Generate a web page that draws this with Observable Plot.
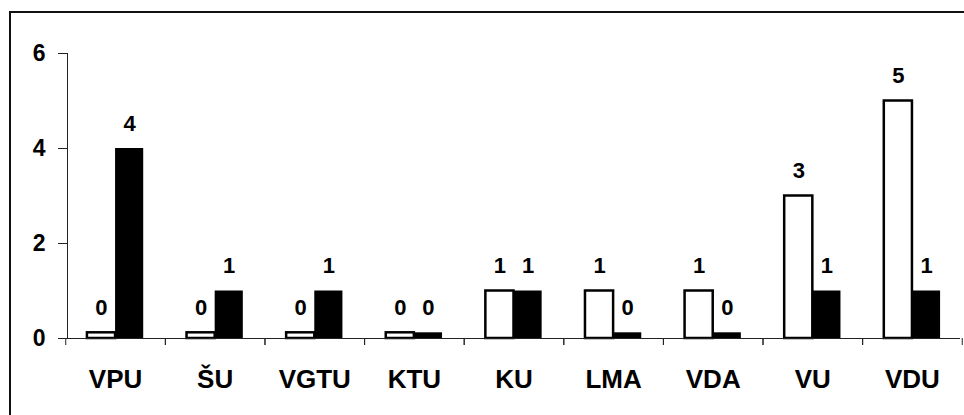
<!DOCTYPE html>
<html>
<head>
<meta charset="utf-8">
<script src="https://cdn.jsdelivr.net/npm/d3@7"></script>
<script src="https://cdn.jsdelivr.net/npm/@observablehq/plot@0.6"></script>
<style>
  html, body { margin: 0; padding: 0; background: #fff; overflow: hidden; }
  #wrap { position: relative; width: 964px; height: 415px; overflow: hidden; background: #fff; }
  #border { position: absolute; left: 9px; top: 11px; width: 1000px; height: 500px; border: 2px solid #111; box-sizing: border-box; }
  #chart { position: absolute; left: 0; top: 0; }
</style>
</head>
<body>
<div id="wrap"><div id="border"></div><div id="chart"></div></div>
<script>
const categories = ["VPU", "ŠU", "VGTU", "KTU", "KU", "LMA", "VDA", "VU", "VDU"];
const whiteValues = [0, 0, 0, 0, 1, 1, 1, 3, 5];
const blackValues = [4, 1, 1, 0, 1, 0, 0, 1, 1];
const yTicks = [0, 2, 4, 6];
const zeroStub = 0.12; // zero values drawn as thin stubs, as in the original

const white = categories.map((c, i) => ({category: c, value: whiteValues[i]}));
const black = categories.map((c, i) => ({category: c, value: blackValues[i]}));
const shown = d => Math.max(d.value, zeroStub);

const W = 964, H = 415, ML = 67, MR = 4, MT = 53, MB = 77;
const pInner = 0.435, pOuter = 0.2;
const step = (W - ML - MR) / (categories.length - pInner + 2 * pOuter);
const bw = step * (1 - pInner);
const inset = bw / 2;      // each series takes half of the band
const offset = bw / 4;     // centre of each half

const chart = Plot.plot({
  width: W, height: H,
  marginLeft: ML, marginRight: MR, marginTop: MT, marginBottom: MB,
  style: {fontFamily: "'Liberation Sans', Arial, sans-serif", fontWeight: "bold", color: "#000", background: "transparent", overflow: "visible"},
  x: {domain: categories, paddingInner: pInner, paddingOuter: pOuter, round: false, axis: null},
  y: {domain: [0, 6], axis: null},
  marks: [
    Plot.barY(white, {x: "category", y: shown, fill: "white", stroke: "black", strokeWidth: 2.5, insetRight: inset}),
    Plot.barY(black, {x: "category", y: shown, fill: "black", insetLeft: inset}),
    Plot.ruleY([0], {stroke: "#222", strokeWidth: 1}),
    Plot.frame({anchor: "left", stroke: "#222", strokeWidth: 1}),
    Plot.axisY({ticks: yTicks, tickSize: 9, tickPadding: 13, fontSize: 23, stroke: "#222", tickFormat: d3.format("d"), label: null}),
    Plot.axisX({tickSize: 7, tickFormat: () => "", dx: step / 2, stroke: "#222", label: null}),
    Plot.axisX({tickSize: 7, tickFormat: () => "", dx: -step / 2, stroke: "#222", label: null}),
    Plot.axisX({tickSize: 0, tickPadding: 31, fontSize: 26, label: null}),
    Plot.text(white, {x: "category", y: shown, text: d => String(d.value), dx: -offset, dy: -25, fontSize: 22, fontWeight: "bold", fill: "black"}),
    Plot.text(black, {x: "category", y: shown, text: d => String(d.value), dx: offset, dy: -25, fontSize: 22, fontWeight: "bold", fill: "black"})
  ]
});
document.getElementById("chart").appendChild(chart);
</script>
</body>
</html>
